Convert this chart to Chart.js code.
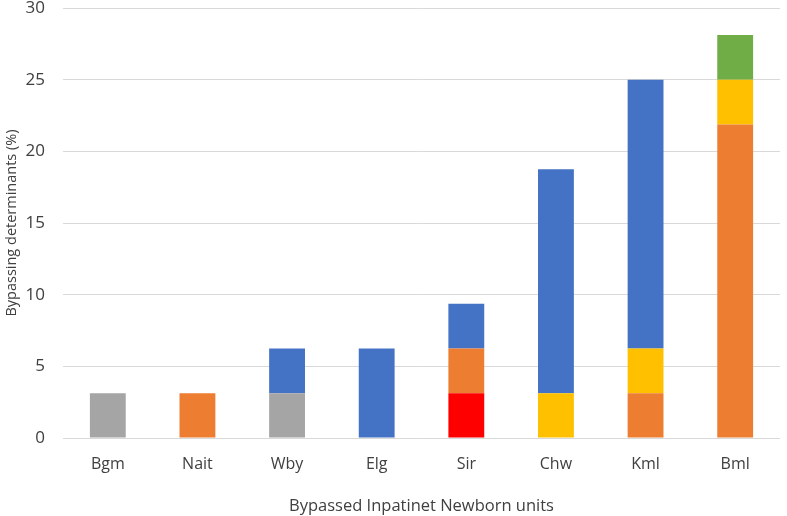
<!DOCTYPE html>
<html>
<head>
<meta charset="utf-8">
<script src="https://cdn.jsdelivr.net/npm/chart.js@4/dist/chart.umd.min.js"></script>
<style>
  html, body { margin: 0; padding: 0; background: #fff; }
  #wrap { width: 787px; height: 516px; }
</style>
</head>
<body>
<div id="wrap"><canvas id="grafico"></canvas></div>
<script>
/* DADOS */
const unidades = ["Bgm", "Nait", "Wby", "Elg", "Sir", "Chw", "Kml", "Bml"];
const vermelho = [null, null, null, null, 3.125, null, null, null];
const cinza    = [3.125, null, 3.125, null, null, null, null, null];
const laranja  = [null, 3.125, null, null, 3.125, null, 3.125, 21.875];
const amarelo  = [null, null, null, null, null, 3.125, 3.125, 3.125];
const azul     = [null, null, 3.125, 6.25, 3.125, 15.625, 18.75, null];
const verde    = [null, null, null, null, null, null, null, 3.125];
const ticksY   = [0, 5, 10, 15, 20, 25, 30];

const fonte = "'Open Sans', 'Liberation Sans', sans-serif";

function serie(nome, dados, cor) {
    return {
        label: nome,
        data: dados,
        backgroundColor: cor,
        borderWidth: 0,
        categoryPercentage: 1,
        barPercentage: 0.4
    };
}

new Chart(document.getElementById("grafico"), {
    type: "bar",
    data: {
        labels: unidades,
        datasets: [
            serie("Vermelho", vermelho, "#FF0000"),
            serie("Cinza", cinza, "#A5A5A5"),
            serie("Laranja", laranja, "#ED7D31"),
            serie("Amarelo", amarelo, "#FFC000"),
            serie("Azul", azul, "#4472C4"),
            serie("Verde", verde, "#70AD47")
        ]
    },
    options: {
        responsive: true,
        maintainAspectRatio: false,
        animation: false,
        layout: { padding: { left: 3, right: 7, top: 8, bottom: 0 } },
        plugins: {
            legend: { display: false },
            tooltip: { enabled: false }
        },
        scales: {
            x: {
                stacked: true,
                grid: { display: false, drawTicks: false },
                border: { display: false },
                ticks: { color: "#404040", padding: 17, font: { family: fonte, size: 16 } },
                title: {
                    display: true,
                    text: "Bypassed Inpatinet Newborn units",
                    color: "#404040",
                    padding: { top: 5, bottom: 0 },
                    font: { family: fonte, size: 16.5 }
                }
            },
            y: {
                stacked: true,
                min: 0,
                max: 30,
                afterBuildTicks: (eixo) => { eixo.ticks = ticksY.map(v => ({ value: v })); },
                afterFit: (eixo) => { eixo.width = 60; eixo.paddingTop = 0; eixo.paddingBottom = 0; },
                grid: { color: "#D9D9D9", lineWidth: 1, drawTicks: false },
                border: { display: false },
                ticks: { color: "#404040", padding: 18, font: { family: fonte, size: 17 } },
                title: {
                    display: true,
                    text: "Bypassing determinants (%)",
                    color: "#404040",
                    padding: { top: 0, bottom: 2 },
                    font: { family: fonte, size: 14.5 }
                }
            }
        }
    }
});
</script>
</body>
</html>
